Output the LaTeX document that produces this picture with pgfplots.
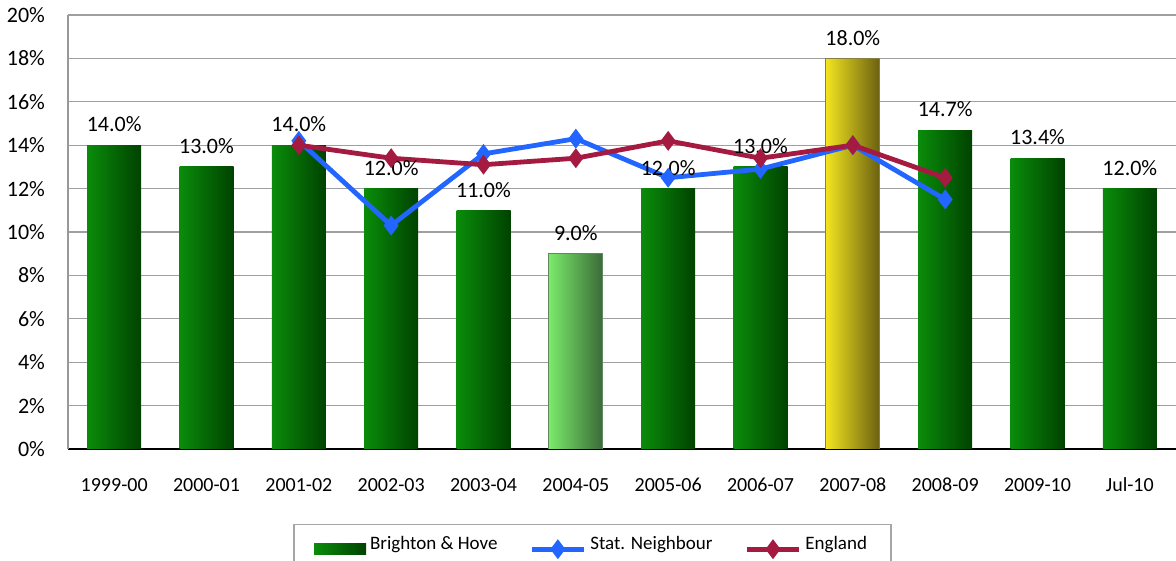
\documentclass[border=0pt]{standalone}
\usepackage{pgfplots}
\pgfplotsset{compat=1.18}
\usepackage{fontspec}
\setmainfont{Carlito}
\definecolor{gA}{RGB}{10,140,10}
\definecolor{gB}{RGB}{0,66,0}
\definecolor{lgA}{RGB}{122,234,106}
\definecolor{lgB}{RGB}{58,106,56}
\definecolor{yA}{RGB}{242,228,32}
\definecolor{yB}{RGB}{106,96,16}
\definecolor{statblue}{RGB}{34,102,255}
\definecolor{engred}{RGB}{165,26,64}
\pgfplotsset{
  gbar/.style={ybar, bar width=27pt, draw=none, left color=gA, right color=gB, forget plot,
    nodes near coords={\pgfmathprintnumber[fixed,fixed zerofill,precision=1]{\pgfplotspointmeta}\%}},
}
\begin{document}
\begin{tikzpicture}
\useasboundingbox (-34pt,-56pt) rectangle (554pt,224.5pt);
\begin{axis}[
  scale only axis, width=554pt, height=217pt,
  xmin=-0.5, xmax=11.5, ymin=0, ymax=20,
  xtick={0,...,11},
  xticklabels={1999-00,2000-01,2001-02,2002-03,2003-04,2004-05,2005-06,2006-07,2007-08,2008-09,2009-10,Jul-10},
  ytick={0,2,...,20},
  yticklabel={\pgfmathprintnumber{\tick}\%},
  /pgf/number format/assume math mode=true,
  ymajorgrids, grid style={color=gray!75, line width=0.6pt},
  axis x line*=bottom, axis y line*=left,
  x axis line style={-, black, line width=0.8pt},
  y axis line style={-, gray!80, line width=0.6pt},
  major tick length=0pt,
  xticklabel style={font=\fontsize{10}{12}\selectfont, yshift=-11pt},
  yticklabel style={font=\fontsize{11}{13}\selectfont, xshift=-8pt},
  legend style={at={(0.4734,-0.1728)}, anchor=north, legend columns=3,
    draw=gray!70, line width=0.6pt, font=\fontsize{9.5}{11}\selectfont,
    inner xsep=10pt, inner ysep=4pt,
    nodes={text depth=6pt},
    /tikz/every even column/.append style={column sep=14pt}},
  legend cell align=left,
  nodes near coords style={font=\fontsize{11}{13}\selectfont, text=black, anchor=south, yshift=3pt},
]
\addplot[ybar, bar width=27pt, draw=none, left color=gA, right color=gB,
  nodes near coords={\pgfmathprintnumber[fixed,fixed zerofill,precision=1]{\pgfplotspointmeta}\%},
  legend image code/.code={\fill[left color=gA,right color=gB,draw=none] (0pt,-2.75pt) rectangle (26pt,2.75pt);}]
  coordinates {(0,14)};
\addlegendentry{Brighton \& Hove}
\addplot[gbar] coordinates {(1,13)};
\addplot[gbar] coordinates {(2,14)};
\addplot[gbar] coordinates {(3,12)};
\addplot[gbar] coordinates {(4,11)};
\addplot[gbar] coordinates {(6,12)};
\addplot[gbar] coordinates {(7,13)};
\addplot[gbar] coordinates {(9,14.7)};
\addplot[gbar] coordinates {(10,13.4)};
\addplot[gbar] coordinates {(11,12)};
\addplot[gbar, draw=lgB!80, line width=0.4pt, left color=lgA, right color=lgB]
  coordinates {(5,9)};
\addplot[gbar, draw=yB!80, line width=0.4pt, left color=yA, right color=yB]
  coordinates {(8,18)};
\addplot[color=statblue, line width=2.4pt, mark=diamond*, mark size=3pt, mark options={solid},
  legend image code/.code={\draw[mark repeat=2,mark phase=2] plot coordinates {(0pt,0pt) (13pt,0pt) (26pt,0pt)};}]
  coordinates {(2,14.2)(3,10.3)(4,13.6)(5,14.3)(6,12.5)(7,12.9)(8,14.0)(9,11.5)};
\addlegendentry{Stat. Neighbour}
\addplot[color=engred, line width=2.4pt, mark=diamond*, mark size=3pt, mark options={solid},
  legend image code/.code={\draw[mark repeat=2,mark phase=2] plot coordinates {(0pt,0pt) (13pt,0pt) (26pt,0pt)};}]
  coordinates {(2,14.0)(3,13.4)(4,13.1)(5,13.4)(6,14.2)(7,13.4)(8,14.0)(9,12.5)};
\addlegendentry{England}
\end{axis}
\end{tikzpicture}
\end{document}
